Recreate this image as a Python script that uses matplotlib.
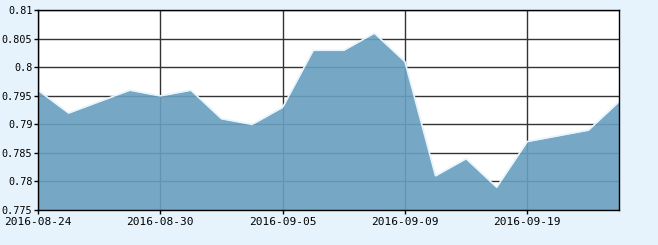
import matplotlib
matplotlib.use('Agg')
import matplotlib.pyplot as plt

# trading days (Mid-Autumn holiday 09-15/16 skipped)
dates = ['2016-08-24', '2016-08-25', '2016-08-26', '2016-08-29', '2016-08-30',
         '2016-08-31', '2016-09-01', '2016-09-02', '2016-09-05', '2016-09-06',
         '2016-09-07', '2016-09-08', '2016-09-09', '2016-09-12', '2016-09-13',
         '2016-09-14', '2016-09-19', '2016-09-20', '2016-09-21', '2016-09-22']
values = [0.796, 0.792, 0.794, 0.796, 0.795, 0.796, 0.791, 0.790, 0.793, 0.803,
          0.803, 0.806, 0.801, 0.781, 0.784, 0.779, 0.787, 0.788, 0.789, 0.794]
yticks = [0.775, 0.78, 0.785, 0.79, 0.795, 0.8, 0.805, 0.81]
ytick_labels = ['0.775', '0.78', '0.785', '0.79', '0.795', '0.8', '0.805', '0.81']

bg = '#e6f3fc'
fig = plt.figure(figsize=(6.58, 2.45), dpi=100, facecolor=bg)
ax = fig.add_axes([38 / 658, 35 / 245, 581 / 658, 199.7 / 245])
ax.set_facecolor('white')

x = list(range(len(dates)))
ax.fill_between(x, values, 0.775, color='#68a0c0', alpha=0.91, lw=0, zorder=3)
ax.plot(x, values, color='#e8f4fc', lw=1.2, zorder=4)

ax.set_xlim(0, len(dates) - 1)
ax.set_ylim(0.775, 0.81)
xt = [0, 4, 8, 12, 16]
ax.set_xticks(xt)
ax.set_xticklabels([dates[i] for i in xt])
ax.set_yticks(yticks)
ax.set_yticklabels(ytick_labels)

ax.grid(True, color='#333333', lw=1, zorder=1)
ax.set_axisbelow(True)
for s in ax.spines.values():
    s.set_color('black')
    s.set_linewidth(1)
    s.set_zorder(5)
ax.tick_params(direction='out', length=3, width=1, color='black')
ax.tick_params(axis='x', pad=2, labelsize=8)
ax.tick_params(axis='y', pad=1, labelsize=7.3)
for lab in ax.get_xticklabels() + ax.get_yticklabels():
    lab.set_family('DejaVu Sans Mono')

fig.savefig('out.png', dpi=100, facecolor=bg)
